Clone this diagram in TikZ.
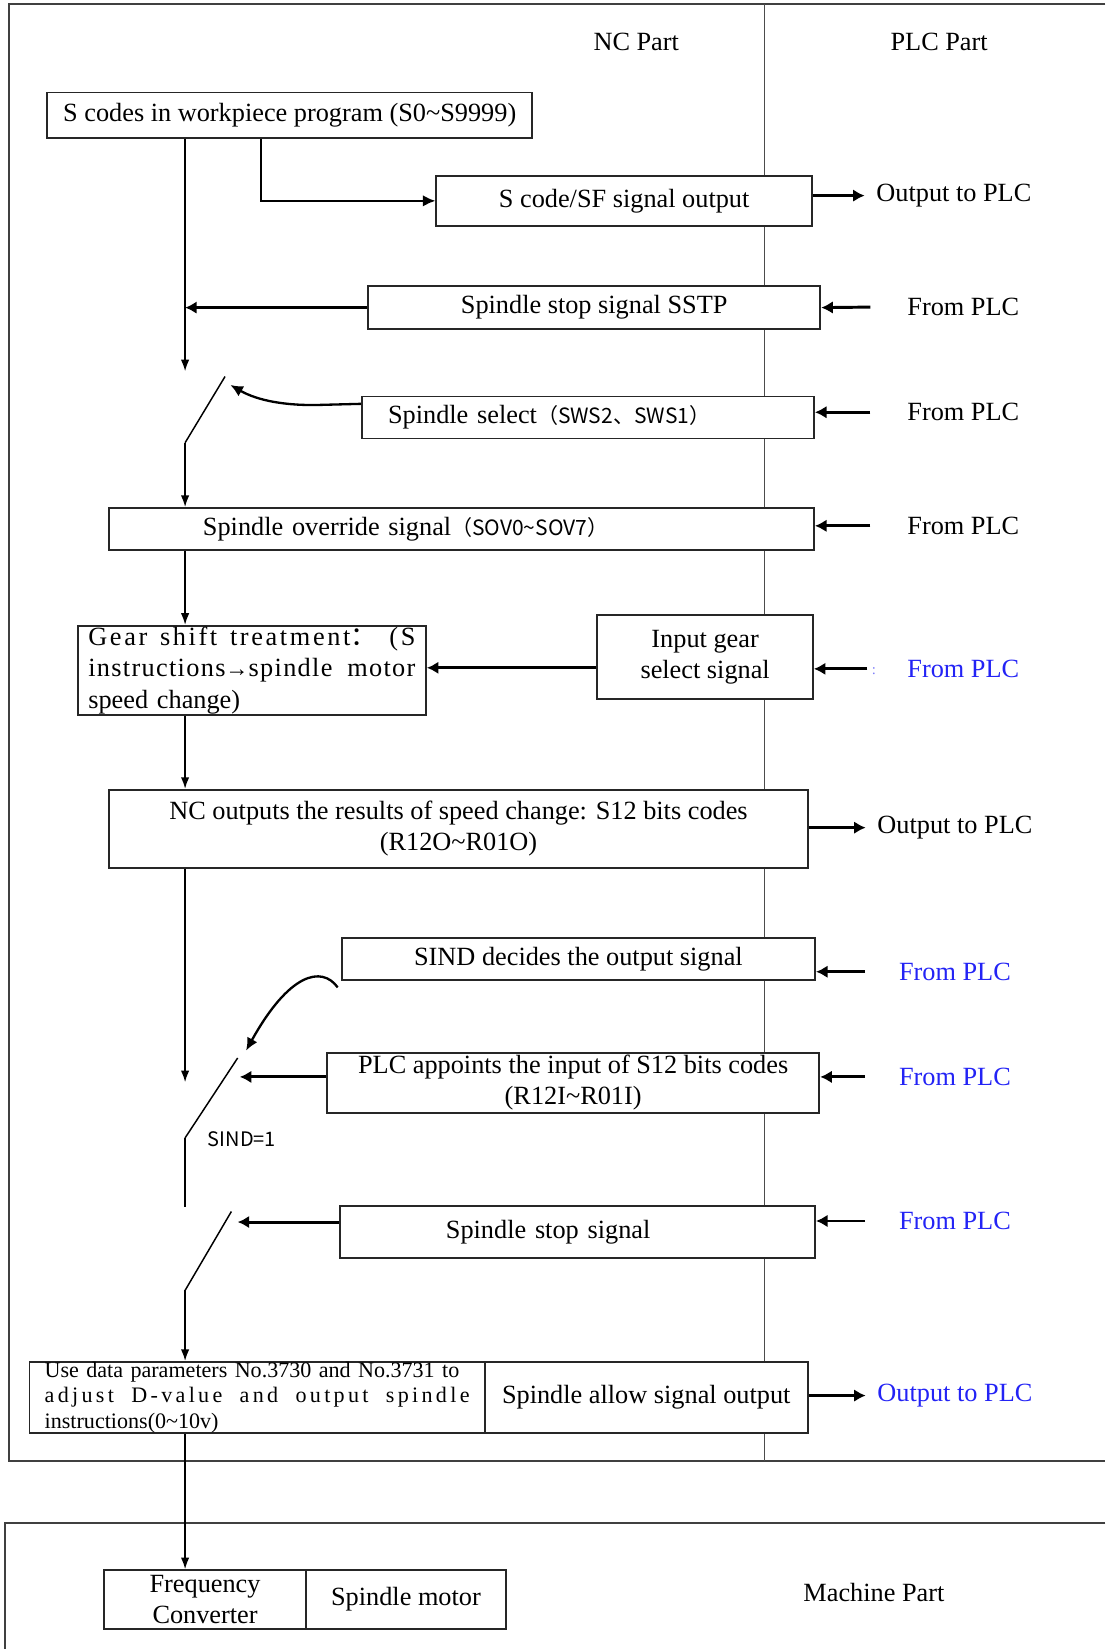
\documentclass[tikz,border=0pt]{standalone}
\usepackage{fontspec}
\setmainfont{Liberation Serif}
\newfontfamily\cjk{Noto Sans CJK SC}
\newfontfamily\spreadA[LetterSpace=10]{Liberation Serif}
\newfontfamily\spreadB[LetterSpace=5]{Liberation Serif}
\newfontfamily\spreadC[LetterSpace=15]{Liberation Serif}
\usetikzlibrary{arrows.meta}
\definecolor{plcblue}{RGB}{35,35,245}
\begin{document}
\begin{tikzpicture}[x=1pt,y=-1pt,
  every node/.style={font=\fontsize{25}{29}\selectfont, inner sep=0pt},
  box/.style={draw=black!85, line width=1.8pt, fill=white, align=center},
  lbl/.style={font=\fontsize{25}{29}\selectfont},
  plcb/.style={text=plcblue},
  thinarrow/.style={line width=1.4pt, -{Latex[length=11pt,width=8pt]}},
  midarrow/.style={line width=2.2pt, -{Latex[length=12pt,width=11pt]}},
  thickarrow/.style={line width=2.8pt, -{Latex[length=11pt,width=12pt]}},
  plainline/.style={line width=1.4pt},
  frameline/.style={line width=1.9pt, black!75},
]
\useasboundingbox (0,0) rectangle (1051,1568);

% frames
\draw[frameline] (1051,4) -- (9,4) -- (9,1389) -- (1051,1389);
\draw[frameline] (1051,1448) -- (5,1448) -- (5,1568);
\draw[line width=1.4pt, black!70] (727,4) -- (727,1389);

% headings
\node[lbl] (nc) at (605,40) {NC Part};
\node[lbl] (plc) at (893,40) {PLC Part};
\node[lbl] (mach) at (831,1514) {Machine Part};

% boxes
\node[box, minimum width=461pt, minimum height=43pt] (b1) at (275.5,109.5) {S codes in workpiece program (S0\textasciitilde S9999)};
\node[box, minimum width=357pt, minimum height=48pt] (b2) at (593.5,191) {S code/SF signal output};
\node[box, minimum width=430pt, minimum height=41pt] (b3) at (565,292.5) {Spindle stop signal SSTP};
\node[box, minimum width=430pt, minimum height=40pt, text width=380pt, align=left] (b4) at (559,397) {Spindle select{\cjk\fontsize{20}{24}\selectfont （SWS2、SWS1）}};
\node[box, minimum width=670pt, minimum height=40pt, text width=492pt, align=left] (b5) at (439,503) {Spindle override signal{\cjk\fontsize{20}{24}\selectfont （SOV0\textasciitilde SOV7）}};
\node[box, minimum width=331pt, minimum height=85pt, text width=311pt, align=left, font=\fontsize{25}{30}\selectfont] (b6) at (239.5,637.5)
  {\makebox[311pt][l]{\spreadA Gear\hfill shift\hfill treatment{\cjk ：}\hfill(S}\\
   \makebox[311pt][l]{\spreadB instructions{\fontsize{22}{22}\selectfont →}spindle\hfill motor}\\
   speed change)};
\node[box, minimum width=205pt, minimum height=80pt, font=\fontsize{25}{30}\selectfont] (b7) at (670.5,625) {Input gear\\select signal};
\node[box, minimum width=664pt, minimum height=74pt] (b8) at (436,788) {NC outputs the results of speed change: S12 bits codes\\(R12O\textasciitilde R01O)};
\node[box, minimum width=450pt, minimum height=40pt] (b9) at (550,912) {SIND decides the output signal};
\node[box, minimum width=468pt, minimum height=57pt] (b10) at (545,1029.5) {PLC appoints the input of S12 bits codes\\(R12I\textasciitilde R01I)};
\node[box, minimum width=452pt, minimum height=49pt, text width=250pt, align=left] (b11) at (549,1171.5) {Spindle stop signal};
\node[box, minimum width=433pt, minimum height=68pt, text width=404pt, align=left, font=\fontsize{21}{24}\selectfont] (b12a) at (244.5,1329)
  {\makebox[404pt][s]{Use data parameters No.3730 and No.3731 to}\\
   \makebox[404pt][l]{\spreadC adjust\hfill D-value\hfill and\hfill output\hfill spindle}\\
   instructions(0\textasciitilde 10v)};
\node[box, minimum width=307pt, minimum height=68pt] (b12b) at (614.5,1329) {Spindle allow signal output};
\node[box, minimum width=192pt, minimum height=56pt, font=\fontsize{25}{30}\selectfont] (b13a) at (195,1521) {Frequency\\Converter};
\node[box, minimum width=190pt, minimum height=56pt] (b13b) at (386,1521) {Spindle motor};

% right-side labels
\node[lbl] (o1) at (907,186) {Output to PLC};
\node[lbl] (f3) at (916,292) {From PLC};
\node[lbl] (f4) at (916,392) {From PLC};
\node[lbl] (f5) at (916,500) {From PLC};
\node[lbl, plcb] (f7) at (916,636) {From PLC};
\node[font=\fontsize{14}{16}\selectfont, text=plcblue!60] (colon) at (831,638) {:};
\node[lbl] (o8) at (908,787) {Output to PLC};
\node[lbl, plcb] (f9) at (908,924) {From PLC};
\node[lbl, plcb] (f10) at (908,1024) {From PLC};
\node[lbl, plcb] (f11) at (908,1161) {From PLC};
\node[lbl, plcb] (o12) at (908,1327) {Output to PLC};
\node[font=\cjk\fontsize{19}{22}\selectfont] (sind) at (230,1083) {SIND=1};

% helper coordinates
\coordinate (mx) at (176,0);
\coordinate (kx) at (248,0);
\coordinate (m1) at (176,353);
\coordinate (m2) at (176,1029);
\coordinate (s1a) at (176,421);
\coordinate (s1b) at (214,358);
\coordinate (s1tip) at (219,366);
\coordinate (y384) at (0,384);
\coordinate (y635) at (0,635);
\coordinate (y1024) at (0,1024);
\coordinate (y1162) at (0,1162);
\coordinate (s2a) at (176,1082);
\coordinate (s2b) at (226,1006);
\coordinate (s2tip) at (228,1024);
\coordinate (s2c) at (176,1148);
\coordinate (s2arr) at (234,999);
\coordinate (s3a) at (176,1227);
\coordinate (s3b) at (220,1152);
\coordinate (s3tip) at (226,1162);
\coordinate (o1t) at ([xshift=-11pt]o1.west);
\coordinate (o8t) at ([xshift=-11pt]o8.west);
\coordinate (o12t) at ([xshift=-11pt]o12.west);

% connectors
\draw[midarrow] (b1.south -| kx) |- (b2.west);
\draw[thickarrow] (b2.east |- o1t) -- (o1t);
\draw[thinarrow] (b1.south -| mx) -- (m1);
\draw[thickarrow] (b3.west) -- (b3.west -| mx);
\draw[thickarrow] ([xshift=-35pt]f3.west) -- (b3.east);

\draw[plainline] (s1a) -- (s1b);
\draw[thinarrow] (s1a) -- (b5.north -| s1a);
\draw[midarrow] (b4.west |- y384) -- (305,385) .. controls (272,386) and (245,381) .. (s1tip);
\draw[thickarrow] ([xshift=-35pt]f4.west) -- (b4.east |- f4);
\draw[thickarrow] ([xshift=-35pt]f5.west) -- (b5.east |- f5);

\draw[thinarrow] (b5.south -| mx) -- (b6.north -| mx);
\draw[thickarrow] (b7.west |- y635) -- (b6.east |- y635);
\draw[thickarrow] ([xshift=-38pt]f7.west) -- (b7.east |- f7);

\draw[thinarrow] (b6.south -| mx) -- (b8.north -| mx);
\draw[thickarrow] (b8.east |- o8t) -- (o8t);
\draw[thinarrow] (b8.south -| mx) -- (m2);

\draw[thickarrow] ([xshift=-32pt]f9.west) -- (b9.east |- f9);
\draw[midarrow] ([shift={(-3pt,-6pt)}]b9.south west) .. controls (306,918) and (275,925) .. (s2arr);

\draw[thickarrow] (b10.west |- y1024) -- (s2tip);
\draw[thickarrow] ([xshift=-32pt]f10.west) -- (b10.east |- f10);
\draw[plainline] (s2a) -- (s2b);
\draw[plainline] (s2a) -- (s2c);

\draw[plainline] (s3a) -- (s3b);
\draw[thinarrow] (s3a) -- (b12a.north -| s3a);
\draw[thickarrow] (b11.west |- y1162) -- (s3tip);
\draw[thickarrow] ([xshift=-32pt]f11.west) -- (b11.east |- f11);

\draw[thickarrow] (b12b.east |- o12t) -- (o12t);
\draw[thinarrow] (b12a.south -| mx) -- (b13a.north -| mx);
\end{tikzpicture}
\end{document}
